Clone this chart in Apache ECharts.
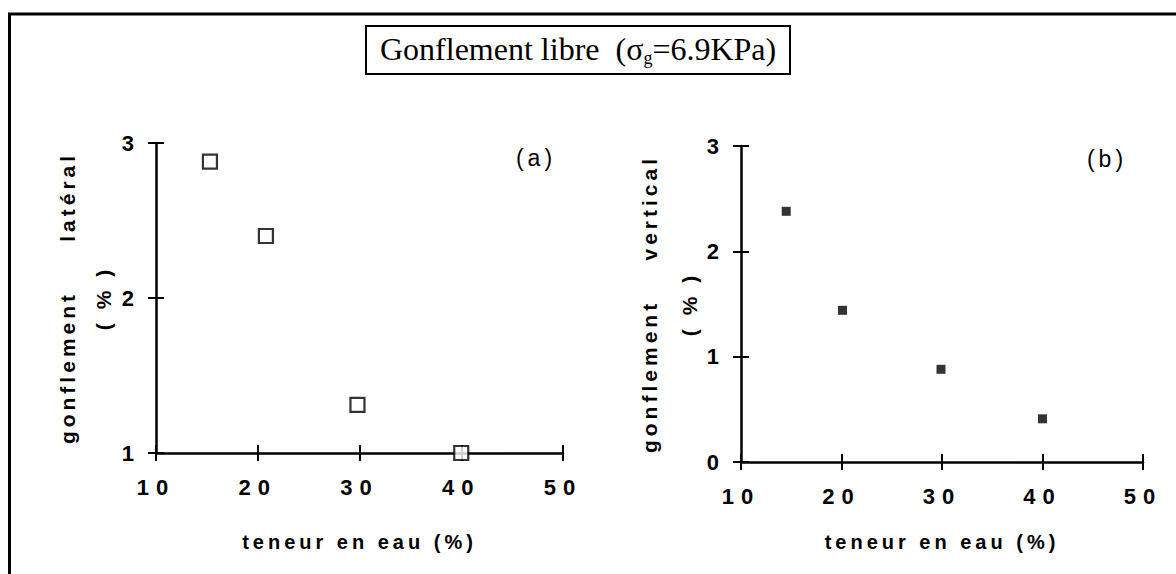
<!DOCTYPE html>
<html>
<head>
<meta charset="utf-8">
<title>Gonflement libre</title>
<script src="https://cdn.jsdelivr.net/npm/echarts@6/dist/echarts.min.js"></script>
<style>
  html, body { margin: 0; padding: 0; background: #fff; }
  #chart { width: 1176px; height: 574px; }
  /* the scanned figure uses wide, typewriter-like letter spacing */
  #chart text { white-space: pre; }
  #chart text[style*="Liberation Sans"] { letter-spacing: 4px; }
  #chart text[style*="22px"] { letter-spacing: 7px; }
</style>
</head>
<body>
<div id="chart"></div>
<script>
// teneur en eau (%) vs gonflement (%)
const teneurLat = [15.3, 20.8, 29.8, 40];
const gonfLat = [2.88, 2.40, 1.31, 1.00];
const teneurVert = [14.5, 20.1, 29.9, 40];
const gonfVert = [2.38, 1.44, 0.88, 0.41];
const xTicks = [10, 20, 30, 40, 50];
const yTicksLat = [1, 2, 3];
const yTicksVert = [0, 1, 2, 3];

const sans = 'Liberation Sans';
const black = '#000';

// each axis is drawn twice (ticks outside + ticks inside) so the ticks cross the line
const makeX = (grid, nameGap) => [
  {
    gridIndex: grid, type: 'value', position: 'bottom',
    min: xTicks[0], max: xTicks[xTicks.length - 1], interval: 10,
    axisLine: { onZero: false, lineStyle: { color: black, width: 2.5 } },
    axisTick: { length: 8, lineStyle: { color: black, width: 2 } },
    axisLabel: { color: black, fontFamily: sans, fontSize: 22, fontWeight: 'bold', margin: 23 },
    splitLine: { show: false },
    name: 'teneur en eau (%)', nameLocation: 'middle', nameGap: nameGap,
    nameTextStyle: { color: black, fontFamily: sans, fontSize: 20, fontWeight: 'bold' }
  },
  {
    gridIndex: grid, type: 'value', position: 'bottom',
    min: xTicks[0], max: xTicks[xTicks.length - 1], interval: 10,
    axisLine: { show: false },
    axisTick: { inside: true, length: 8, lineStyle: { color: black, width: 2 } },
    axisLabel: { show: false },
    splitLine: { show: false }
  }
];

const makeY = (grid, ticks, name, nameGap, lineHeight) => [
  {
    gridIndex: grid, type: 'value', position: 'left',
    min: ticks[0], max: ticks[ticks.length - 1], interval: 1,
    axisLine: { onZero: false, lineStyle: { color: black, width: 2.5 } },
    axisTick: { length: 8, lineStyle: { color: black, width: 2 } },
    axisLabel: { color: black, fontFamily: sans, fontSize: 22, fontWeight: 'bold', margin: 15 },
    splitLine: { show: false },
    name: name, nameLocation: 'middle', nameRotate: 90, nameGap: nameGap,
    nameTextStyle: { color: black, fontFamily: sans, fontSize: 21, fontWeight: 'bold', lineHeight: lineHeight }
  },
  {
    gridIndex: grid, type: 'value', position: 'left',
    min: ticks[0], max: ticks[ticks.length - 1], interval: 1,
    axisLine: { show: false },
    axisTick: { inside: true, length: 8, lineStyle: { color: black, width: 2 } },
    axisLabel: { show: false },
    splitLine: { show: false }
  }
];

const chart = echarts.init(document.getElementById('chart'), null, { renderer: 'svg' });

const option = {
  backgroundColor: '#fff',
  animation: false,
  title: {
    text: '{t|Gonflement libre  (σ}{s|g}{t|=6.9KPa)}',
    left: 366,
    top: 24,
    padding: [7, 14, 7, 14],
    borderColor: black,
    borderWidth: 2,
    textStyle: {
      fontWeight: 'normal',
      rich: {
        t: { fontFamily: 'Liberation Serif', fontSize: 32, fontWeight: 'normal', lineHeight: 36, color: black },
        s: { fontFamily: 'Liberation Serif', fontSize: 18, fontWeight: 'normal', lineHeight: 22, verticalAlign: 'bottom', color: black }
      }
    }
  },
  graphic: [
    {
      type: 'rect', silent: true, z: -1,
      shape: { x: 9.5, y: 14, width: 1400, height: 800 },
      style: { fill: 'none', stroke: black, lineWidth: 3 }
    },
    {
      type: 'text', x: 536, y: 158,
      style: { text: '(a)', fontFamily: sans, fontSize: 23, fill: black, align: 'center', verticalAlign: 'middle' }
    },
    {
      type: 'text', x: 1107, y: 159,
      style: { text: '(b)', fontFamily: sans, fontSize: 23, fill: black, align: 'center', verticalAlign: 'middle' }
    }
  ],
  grid: [
    { left: 156, top: 143, width: 407, height: 310 },
    { left: 741, top: 146, width: 402, height: 316 }
  ],
  xAxis: [...makeX(0, 79), ...makeX(1, 70)],
  yAxis: [
    ...makeY(0, yTicksLat, 'gonflement     latéral\n( % )', 35, 36),
    ...makeY(1, yTicksVert, 'gonflement    vertical\n( % )', 31, 40)
  ],
  series: [
    {
      name: 'latéral', type: 'scatter', xAxisIndex: 0, yAxisIndex: 0, clip: false,
      data: teneurLat.map((x, i) => [x, gonfLat[i]]),
      symbol: 'rect', symbolSize: 14,
      itemStyle: { color: '#fff', borderColor: black, borderWidth: 2.2 }
    },
    {
      name: 'vertical', type: 'scatter', xAxisIndex: 2, yAxisIndex: 2, clip: false,
      data: teneurVert.map((x, i) => [x, gonfVert[i]]),
      symbol: 'rect', symbolSize: 9,
      itemStyle: { color: black }
    }
  ]
};

option && chart.setOption(option);
</script>
</body>
</html>
